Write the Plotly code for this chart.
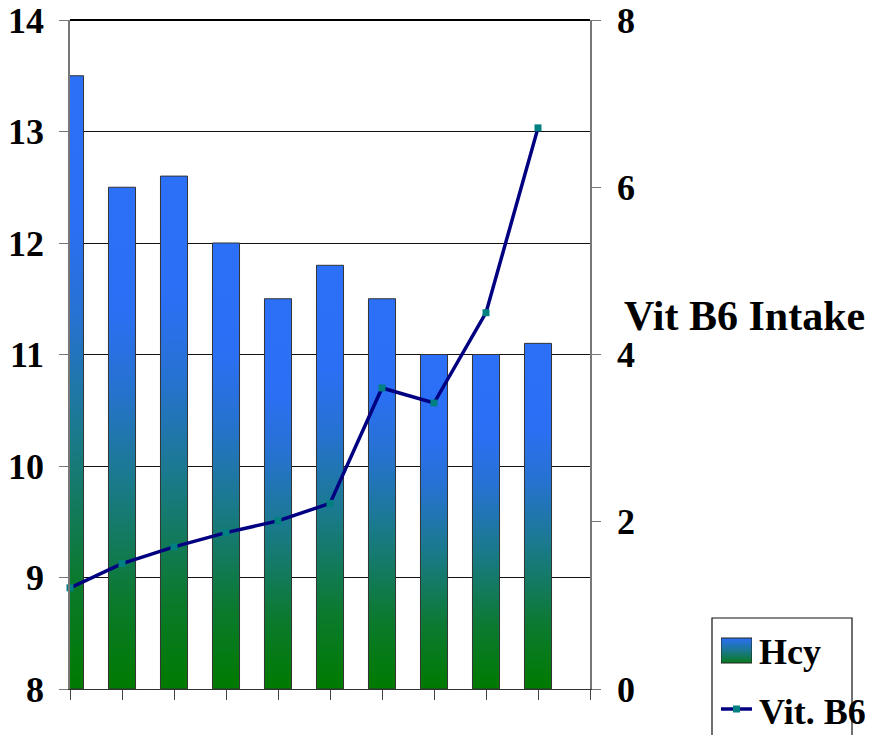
import plotly.graph_objects as go

# Homocysteine (left axis) and vitamin B6 intake (right axis) per group
groups = list(range(10))
hcy = [13.5, 12.5, 12.6, 12.0, 11.5, 11.8, 11.5, 11.0, 11.0, 11.1]
vit_b6 = [1.21, 1.50, 1.70, 1.87, 2.01, 2.22, 3.60, 3.42, 4.50, 6.71]
left_ticks = [8, 9, 10, 11, 12, 13, 14]
right_ticks = [0, 2, 4, 6, 8]

W, H = 886, 735
FONT = "Liberation Serif"
BAR_W = 0.52
BASE = 8
GRAD = [[0.0, "#007a00"], [0.18, "#0b7a2e"], [0.42, "#1a7a8e"],
        [0.6, "#2672d0"], [0.76, "#2b6ff5"], [1.0, "#2c70f8"]]

PLOT_L, PLOT_R, PLOT_T, PLOT_B = 70, 590, 20, 689


def px_x(p):
    return p / W


def px_y(p):
    return 1 - p / H


fig = go.Figure()

# gradient-filled bars, one closed polygon per group
for g, v in zip(groups, hcy):
    fig.add_trace(go.Scatter(
        x=[g - BAR_W / 2, g + BAR_W / 2, g + BAR_W / 2, g - BAR_W / 2, g - BAR_W / 2],
        y=[BASE, BASE, v, v, BASE],
        mode="lines", fill="toself",
        fillgradient=dict(type="vertical", colorscale=GRAD),
        line=dict(color="#333333", width=1),
        showlegend=False, hoverinfo="skip",
        xaxis="x", yaxis="y",
    ))

fig.add_trace(go.Scatter(
    x=groups, y=vit_b6, mode="lines+markers",
    line=dict(color="#000080", width=3.5),
    marker=dict(symbol="square", size=7, color="#008080"),
    cliponaxis=False, showlegend=False,
    xaxis="x", yaxis="y2",
))

# legend swatches on a small pixel-unit axis pair
fig.add_trace(go.Scatter(
    x=[721, 752, 752, 721, 721], y=[638, 638, 663, 663, 638],
    mode="lines", fill="toself",
    fillgradient=dict(type="vertical", colorscale=[[0, "#0a7a1e"], [0.5, "#1a7890"], [1, "#2b6ff5"]]),
    line=dict(color="#222222", width=1),
    showlegend=False, hoverinfo="skip", xaxis="x3", yaxis="y3",
))
fig.add_trace(go.Scatter(
    x=[721, 752], y=[709, 709], mode="lines",
    line=dict(color="#000080", width=3.5),
    showlegend=False, hoverinfo="skip", xaxis="x3", yaxis="y3",
))
fig.add_trace(go.Scatter(
    x=[736.5], y=[709], mode="markers",
    marker=dict(symbol="square", size=7, color="#008080"),
    showlegend=False, hoverinfo="skip", xaxis="x3", yaxis="y3",
))

tick_font = dict(family=FONT, size=36, color="black", weight="bold")

fig.update_layout(
    width=W, height=H,
    margin=dict(l=0, r=0, t=0, b=0, autoexpand=False),
    paper_bgcolor="white", plot_bgcolor="white",
    showlegend=False,
    xaxis=dict(
        domain=[px_x(PLOT_L), px_x(PLOT_R)], range=[0, 10],
        tickmode="array", tickvals=list(range(11)), showticklabels=False,
        ticks="outside", ticklen=10, tickcolor="#444444",
        showline=True, linecolor="#333333", linewidth=1,
        showgrid=False, zeroline=False, fixedrange=True,
    ),
    yaxis=dict(
        domain=[px_y(PLOT_B), px_y(PLOT_T)], range=[8, 14],
        tickmode="array", tickvals=left_ticks,
        ticks="outside", ticklen=9, tickcolor="#777777",
        ticklabelstandoff=8,
        showline=True, linecolor="#777777", linewidth=1.5,
        showgrid=True, gridcolor="#111111", gridwidth=1,
        zeroline=False, tickfont=tick_font,
    ),
    yaxis2=dict(
        overlaying="y", side="right", anchor="x", range=[0, 8],
        tickmode="array", tickvals=right_ticks,
        ticks="outside", ticklen=9, tickcolor="#777777",
        ticklabelstandoff=9,
        showline=True, linecolor="#777777", linewidth=1.5,
        showgrid=False, zeroline=False, tickfont=tick_font,
    ),
    xaxis3=dict(domain=[px_x(721), px_x(752)], range=[721, 752], visible=False,
                anchor="y3", fixedrange=True),
    yaxis3=dict(domain=[px_y(720), px_y(630)], range=[720, 630], visible=False,
                anchor="x3", fixedrange=True),
    shapes=[
        # top border of the plotting area
        dict(type="line", xref="paper", yref="paper",
             x0=px_x(PLOT_L), x1=px_x(PLOT_R), y0=px_y(PLOT_T), y1=px_y(PLOT_T),
             line=dict(color="#000000", width=2), layer="above"),
        dict(type="rect", xref="paper", yref="paper",
             x0=px_x(712), x1=px_x(852), y0=-0.1, y1=px_y(618),
             line=dict(color="#111111", width=1.2), fillcolor="rgba(0,0,0,0)"),
    ],
    annotations=[
        dict(text="Vit B6 Intake", xref="paper", yref="paper",
             x=px_x(622), y=px_y(316), xanchor="left", yanchor="middle",
             showarrow=False, font=dict(family=FONT, size=42, color="black", weight="bold")),
        dict(text="Hcy", xref="paper", yref="paper",
             x=px_x(757), y=px_y(652), xanchor="left", yanchor="middle",
             showarrow=False, font=tick_font),
        dict(text="Vit. B6", xref="paper", yref="paper",
             x=px_x(757), y=px_y(712), xanchor="left", yanchor="middle",
             showarrow=False, font=tick_font),
    ],
)

fig.write_html("out.html")
